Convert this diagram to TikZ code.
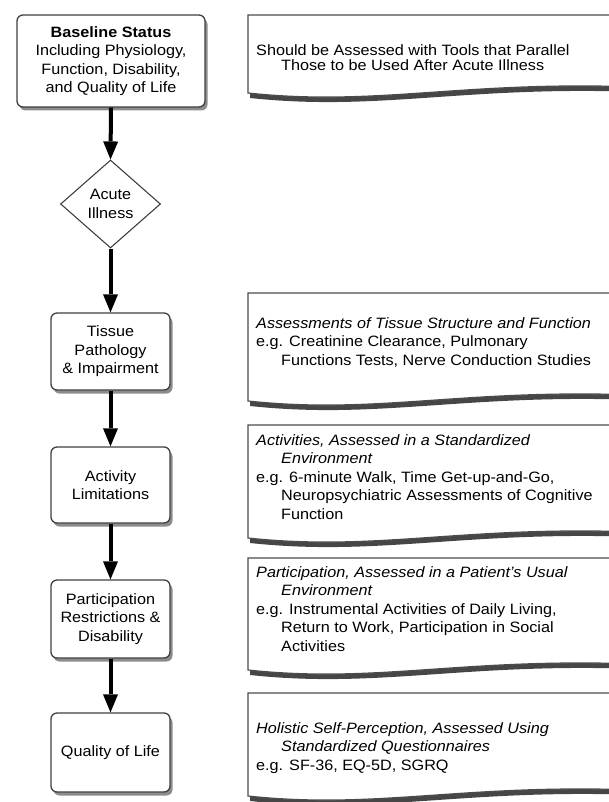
\documentclass[tikz,border=0pt]{standalone}
\usepackage{fontspec}
\setmainfont{Liberation Sans}[FakeStretch=1.08]
\usetikzlibrary{shapes.geometric,arrows.meta,shadows}

\tikzset{
  stage/.style={draw=black!75, line width=1.3pt, fill=white, rounded corners=6pt,
    align=center, minimum width=119pt, minimum height=77pt, inner sep=2pt,
    font=\fontsize{15}{18.5}\selectfont,
    drop shadow={shadow xshift=2.5pt, shadow yshift=-3.5pt, fill=black!60, opacity=0.75}},
  event/.style={draw=black!75, line width=1.1pt, fill=white, diamond, align=center,
    minimum width=100pt, minimum height=88pt, inner sep=1pt,
    font=\fontsize{15}{18.5}\selectfont},
  flow/.style={line width=4pt, -{Triangle[length=18pt,width=15pt,line width=0pt]}},
  docbox/.style={draw=black!70, line width=1.2pt, fill=white,
    drop shadow={shadow xshift=2pt, shadow yshift=-5pt, fill=black!85, opacity=0.85}},
  note/.style={anchor=north west, align=left, inner sep=0pt,
    font=\fontsize{15}{18.6}\selectfont},
}

\begin{document}
\begin{tikzpicture}[x=1pt, y=-1pt]
    \useasboundingbox (0,0) rectangle (609,802);
    \clip (0,0) rectangle (609,802);

    % Stages of the pathway
    \node[stage, minimum width=188pt, minimum height=92pt] (base) at (111,61)
        {\textbf{Baseline Status}\\Including Physiology,\\Function, Disability,\\and Quality of Life};
    \node[event] (ill) at (110.5,204) {Acute\\Illness};
    \node[stage] (tis) at (110.5,351.5) {Tissue\\Pathology\\\& Impairment};
    \node[stage, minimum height=76pt] (act) at (110.5,485) {Activity\\Limitations};
    \node[stage, minimum height=78pt] (par) at (110.5,619) {Participation\\Restrictions \&\\Disability};
    \node[stage, minimum height=79pt] (qol) at (110.5,752.5) {Quality of Life};

    % Arrows
    \foreach \a/\b in {base/ill, ill/tis, tis/act, act/par, par/qol}
        \draw[flow] (\a.south) -- (\b.north);

    % Note sheets with wavy lower edge
    \foreach \ytop/\ybot in {15/93, 293/401, 425/538, 558/670, 693/796}
        \draw[docbox] (248,\ytop) -- (728,\ytop) -- (728,\ybot)
            .. controls (488,\ybot-22) and (398,\ybot+16) .. (248,\ybot) -- cycle;

    % Texts of the notes
    \node[note, font=\fontsize{15}{15}\selectfont] (n1) at (256,44)
        {Should be Assessed with Tools that Parallel\\
         \hspace*{25pt}Those to be Used After Acute Illness};
    \node[note] (n2) at (256,317)
        {\textit{Assessments of Tissue Structure and Function}\\
         e.g. Creatinine Clearance, Pulmonary\\
         \hspace*{25pt}Functions Tests, Nerve Conduction Studies};
    \node[note] (n3) at (256,434)
        {\textit{Activities, Assessed in a Standardized}\\
         \hspace*{25pt}\textit{Environment}\\
         e.g. 6-minute Walk, Time Get-up-and-Go,\\
         \hspace*{25pt}Neuropsychiatric Assessments of Cognitive\\
         \hspace*{25pt}Function};
    \node[note] (n4) at (256,566)
        {\textit{Participation, Assessed in a Patient's Usual}\\
         \hspace*{25pt}\textit{Environment}\\
         e.g. Instrumental Activities of Daily Living,\\
         \hspace*{25pt}Return to Work, Participation in Social\\
         \hspace*{25pt}Activities};
    \node[note] (n5) at (256,722)
        {\textit{Holistic Self-Perception, Assessed Using}\\
         \hspace*{25pt}\textit{Standardized Questionnaires}\\
         e.g. SF-36, EQ-5D, SGRQ};
\end{tikzpicture}
\end{document}
